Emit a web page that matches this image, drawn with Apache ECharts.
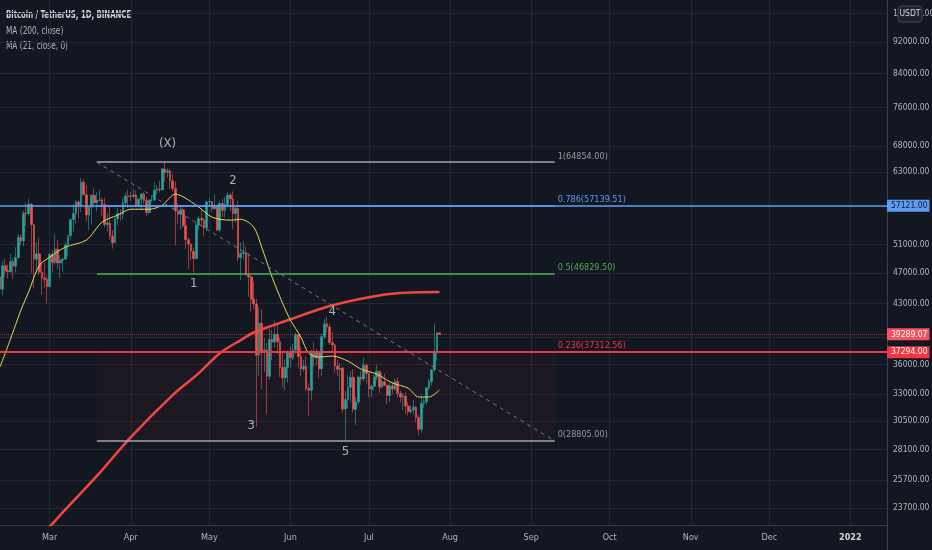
<!DOCTYPE html>
<html>
<head>
<meta charset="utf-8">
<title>Bitcoin / TetherUS, 1D, BINANCE</title>
<script src="https://cdn.jsdelivr.net/npm/echarts@6/dist/echarts.min.js"></script>
<style>
  html, body { margin: 0; padding: 0; background: #131722; }
  #chart { width: 932px; height: 550px; }
</style>
</head>
<body>
<div id="chart"></div>
<script>
// daily axis: 2021-02-10 .. 2022-01-15
const firstDay = Date.UTC(2021, 1, 10);
const dayCount = 340;
const monthNames = ['Jan', 'Feb', 'Mar', 'Apr', 'May', 'Jun', 'Jul', 'Aug', 'Sep', 'Oct', 'Nov', 'Dec'];

// one row per day from 2021-02-10: [open, close, low, high]
const candles = [
  [46469, 44807, 43727, 47310], [44807, 47969, 43994, 48678], [47969, 47287, 46400, 48985],
  [47287, 47153, 46202, 48150], [47153, 48577, 47014, 49707], [48577, 47911, 46174, 49010],
  [47911, 49133, 47010, 50624], [49133, 52119, 48948, 52618], [52119, 51552, 50901, 52530],
  [51552, 55906, 50710, 56368], [55906, 55841, 53863, 57700], [55841, 57408, 55478, 58352],
  [57408, 54087, 46912, 57533], [54087, 48891, 44892, 54183], [48891, 49676, 47003, 51374],
  [49676, 47073, 46700, 52041], [47073, 46276, 44106, 48370], [46276, 46106, 45000, 48424],
  [46106, 45135, 43000, 46638],
  // March
  [45135, 49587, 45115, 49790], [49587, 48441, 47047, 50200], [48441, 50349, 48100, 52640],
  [50349, 48374, 47500, 51773], [48374, 48751, 46300, 49448], [48751, 48882, 47070, 49200],
  [48882, 50971, 48882, 51450], [50971, 52375, 49274, 52402], [52375, 54884, 51789, 54900],
  [54884, 55851, 53005, 57387], [55851, 57773, 54270, 58150], [57773, 57221, 55013, 58058],
  [57221, 61188, 56078, 61844], [61188, 58968, 58966, 61683], [58968, 55605, 54568, 60633],
  [55605, 56900, 53271, 56938], [56900, 58912, 54123, 58981], [58912, 57648, 57023, 60100],
  [57648, 58030, 56270, 59468], [58030, 58102, 57820, 59880], [58102, 57351, 55450, 58592],
  [57351, 54083, 53650, 58420], [54083, 54340, 53000, 55830], [54340, 52303, 51700, 57200],
  [52303, 51293, 50427, 53230], [51293, 55025, 51278, 55073], [55025, 55817, 53967, 56700],
  [55817, 55777, 54691, 56559], [55777, 57635, 54901, 58405], [57635, 58746, 57168, 59368],
  [58746, 58740, 56769, 59800],
  // April
  [58740, 58720, 57935, 59461], [58720, 58950, 58429, 60036], [58950, 57051, 56863, 59753],
  [57051, 58202, 56956, 58492], [58202, 59129, 56478, 59272], [59129, 57991, 57413, 59495],
  [57991, 56000, 55473, 58650], [56000, 58088, 55700, 58153], [58088, 58102, 57670, 58869],
  [58102, 59774, 57902, 61195], [59774, 59964, 59001, 60699], [59964, 59835, 59350, 61400],
  [59835, 63588, 59790, 63774], [63588, 62971, 61301, 64854], [62971, 63232, 62020, 63800],
  [63232, 61431, 60000, 63594], [61431, 60059, 59580, 62599], [60059, 56274, 50931, 61332],
  [56274, 55715, 54221, 57526], [55715, 56473, 53329, 57076], [56473, 53906, 53609, 56888],
  [53906, 51762, 50400, 55500], [51762, 51093, 47500, 52130], [51093, 50050, 48753, 51166],
  [50050, 49004, 47044, 50591], [49004, 54021, 48817, 54356], [54021, 55033, 53222, 55465],
  [55033, 54824, 53813, 56428], [54824, 53555, 52330, 55195], [53555, 57750, 53013, 57963],
  // May
  [57750, 57828, 57053, 58458], [57828, 56631, 56035, 57937], [56631, 57200, 56478, 59000],
  [57200, 53241, 53046, 57220], [53241, 57502, 52900, 57972], [57502, 56372, 55200, 58360],
  [56372, 57352, 55241, 58650], [57352, 58930, 56900, 59500], [58930, 58281, 56235, 59300],
  [58281, 55859, 53400, 59592], [55859, 56705, 54370, 56903], [56705, 49150, 48600, 58000],
  [49150, 49717, 46000, 51367], [49717, 49880, 48868, 51560], [49880, 46761, 46555, 50700],
  [46761, 46456, 43825, 49800], [46456, 43538, 42001, 46643], [43538, 42910, 42250, 45799],
  [42910, 36964, 30000, 43546], [36964, 40596, 34850, 42461], [40596, 37371, 33488, 42250],
  [37371, 37531, 35200, 38856], [37531, 34771, 31111, 38270], [34771, 38705, 34414, 39920],
  [38705, 38403, 36419, 39791], [38403, 39295, 37800, 40900], [39295, 38436, 37134, 40411],
  [38436, 35697, 34688, 38877], [35697, 34617, 33632, 37338], [34617, 35678, 33379, 36488],
  [35678, 37332, 34153, 37499],
  // June
  [37332, 36693, 35666, 37894], [36693, 37569, 36419, 38225], [37569, 39246, 37170, 39476],
  [39246, 36829, 35555, 39289], [36829, 35514, 34800, 37925], [35514, 35797, 35258, 36480],
  [35797, 33552, 33300, 36800], [33552, 33380, 31000, 34068], [33380, 37388, 32396, 37534],
  [37388, 36675, 35787, 38400], [36675, 37313, 35936, 37680], [37313, 35546, 34600, 37463],
  [35546, 39020, 34757, 39380], [39020, 40516, 38730, 41064], [40516, 40144, 39506, 41330],
  [40144, 38349, 38116, 40527], [38349, 38092, 37365, 39559], [38092, 35819, 35129, 38202],
  [35819, 35483, 34803, 36457], [35483, 35600, 33336, 36137], [35600, 31608, 31251, 35750],
  [31608, 32509, 28805, 33298], [32509, 33678, 31683, 34881], [33678, 34663, 32286, 35298],
  [34663, 31584, 31275, 35500], [31584, 32283, 30151, 32730], [32283, 34700, 32000, 34749],
  [34700, 34494, 33862, 35297], [34494, 35911, 34231, 36675], [35911, 35045, 34017, 36100],
  // July
  [35045, 33504, 32711, 35100], [33504, 33786, 32699, 33977], [33786, 34669, 33316, 34909],
  [34669, 35286, 34357, 35967], [35286, 33690, 33125, 35293], [33690, 34220, 33532, 35118],
  [34220, 33863, 33770, 35059], [33863, 32875, 32077, 33929], [32875, 33815, 32261, 34100],
  [33815, 33502, 33005, 34262], [33502, 34258, 33332, 34592], [34258, 33086, 32658, 34670],
  [33086, 32729, 32202, 33340], [32729, 32820, 31550, 33114], [32820, 31880, 31133, 33185],
  [31880, 31383, 31020, 32249], [31383, 31520, 31164, 31949], [31520, 31778, 31108, 32435],
  [31778, 30839, 30407, 31899], [30839, 29790, 29278, 31063], [29790, 32144, 29482, 32858],
  [32144, 32287, 31708, 32591], [32287, 33634, 32000, 33650], [33634, 34258, 33401, 34500],
  [34258, 35425, 33881, 35445], [35425, 37208, 35205, 40550], [37208, 39456, 36383, 39542],
  [39456, 39289.07, 39230, 39500]
];

// moving averages
const ma200Points = [
  ['2021-02-24', 21500], ['2021-03-04', 23010], ['2021-03-20', 26230], ['2021-04-01', 29130],
  ['2021-04-17', 32920], ['2021-04-27', 35090], ['2021-05-05', 37190], ['2021-05-13', 38630],
  ['2021-05-18', 39500], ['2021-05-31', 40930], ['2021-06-16', 42660], ['2021-07-01', 43780],
  ['2021-07-13', 44300], ['2021-07-28', 44430]
];
const ma21Points = [
  ['2021-02-10', 35720], ['2021-02-14', 38740], ['2021-02-18', 42150], ['2021-02-21', 44500],
  ['2021-02-25', 48000], ['2021-03-01', 49190], ['2021-03-07', 50650], ['2021-03-15', 51690],
  ['2021-03-21', 54470], ['2021-03-27', 55590], ['2021-04-01', 56550], ['2021-04-08', 56550],
  ['2021-04-13', 57220], ['2021-04-18', 59090], ['2021-04-26', 57220], ['2021-05-02', 55270],
  ['2021-05-09', 54780], ['2021-05-13', 54920], ['2021-05-18', 53670], ['2021-05-21', 50650],
  ['2021-05-25', 46410], ['2021-05-29', 43020], ['2021-06-01', 40950], ['2021-06-05', 38970],
  ['2021-06-08', 37190], ['2021-06-12', 36770], ['2021-06-17', 36880], ['2021-06-23', 36340],
  ['2021-06-28', 35500], ['2021-07-04', 34990], ['2021-07-10', 34090], ['2021-07-16', 33590],
  ['2021-07-20', 32730], ['2021-07-24', 32730], ['2021-07-28', 33430]
];

// price scale
const priceTicks = [23700, 25700, 28100, 30500, 33000, 36000, 39000, 43000, 47000, 51000,
  57000, 63000, 68000, 76000, 84000, 92000, 100000];
const priceLabels = [23700, 25700, 28100, 30500, 33000, 36000, 43000, 47000, 51000,
  63000, 68000, 76000, 84000, 92000, 100000];

// fib retracement drawing
const fibRatios = ['1', '0.786', '0.5', '0.236', '0'];
const fibPrices = [64854.00, 57139.51, 46829.50, 37312.56, 28805.00];
const fibFrom = '2021-03-19';
const fibTo = '2021-09-10';

// wave count labels
const waveNames = ['(X)', '1', '2', '3', '4', '5'];
const waveDates = ['2021-04-15', '2021-04-25', '2021-05-10', '2021-05-17', '2021-06-17', '2021-06-22'];
const wavePrices = [68540, 45600, 61540, 30160, 41920, 27890];

// horizontal lines
const blueLevel = 57121.00;
const redLevel = 37294.00;
const lastPrice = 39289.07;

const days = [];
for (let i = 0; i < dayCount; i++) {
  days.push(new Date(firstDay + i * 86400000).toISOString().slice(0, 10));
}
const isMonthStart = (idx, val) => val.slice(8) === '01';

const font = "'DejaVu Sans Condensed', 'DejaVu Sans', sans-serif";
const up = '#26a69a';
const down = '#ef5350';
const fibLineColors = ['#a3a6af', '#5b9cf6', '#4caf50', '#f23645', '#a3a6af'];
const fibTextColors = ['#9598a1', '#5b9cf6', '#4caf50', '#f23645', '#9598a1'];

const fibLines = fibPrices.map((p, i) => [
  {
    coord: [fibFrom, p],
    lineStyle: { color: fibLineColors[i], width: i === 3 ? 2 : 1.5, type: 'solid' },
    label: {
      show: true, position: 'end', distance: 3,
      // second empty line lifts the text above the level line
      formatter: fibRatios[i] + '(' + p.toFixed(2) + ')\n ',
      color: fibTextColors[i], fontSize: 9, lineHeight: 12, fontFamily: font,
      textBorderWidth: 0
    }
  },
  { coord: [fibTo, p] }
]);

const badge = (value, bg, fg) => ({
  show: true, position: 'end', distance: 0,
  formatter: value.toFixed(2),
  backgroundColor: bg, color: fg,
  fontSize: 8.5, fontFamily: font,
  textBorderWidth: 0,
  padding: [2, 2, 1, 4]
});

const chart = echarts.init(document.getElementById('chart'));
const option = {
  backgroundColor: '#131722',
  animation: false,
  grid: { left: 0, right: 45, top: 0, bottom: 25, containLabel: false, outerBoundsMode: 'none' },
  xAxis: {
    type: 'category',
    data: days,
    boundaryGap: false,
    axisLine: { lineStyle: { color: '#3b3f4a' } },
    axisTick: { show: false },
    axisLabel: {
      interval: isMonthStart,
      color: '#b2b5be',
      fontSize: 9,
      fontFamily: font,
      margin: 8,
      formatter: (val) => {
        const m = +val.slice(5, 7);
        return m === 1 ? '{y|' + val.slice(0, 4) + '}' : monthNames[m - 1];
      },
      rich: { y: { fontWeight: 'bold', color: '#d1d4dc', fontSize: 9, fontFamily: font } }
    },
    splitLine: { show: true, interval: isMonthStart, lineStyle: { color: '#242833' } }
  },
  yAxis: {
    type: 'log',
    position: 'right',
    min: 22550,
    max: 104000,
    axisLine: { show: true, lineStyle: { color: '#3b3f4a' } },
    axisTick: { show: false, customValues: priceTicks },
    axisLabel: {
      customValues: priceLabels,
      formatter: (v) => Math.round(v).toFixed(2),
      color: '#b2b5be',
      fontSize: 8.5,
      fontFamily: font,
      margin: 6
    },
    splitLine: { show: true, lineStyle: { color: '#242833' } }
  },
  series: [
    {
      name: 'zone',
      type: 'line',
      data: [],
      z: 1,
      silent: true,
      markArea: {
        silent: true,
        itemStyle: { color: 'rgba(242, 54, 69, 0.045)' },
        data: [[{ coord: [fibFrom, fibPrices[3]] }, { coord: [fibTo, fibPrices[4]] }]]
      }
    },
    {
      name: 'BTCUSDT',
      type: 'candlestick',
      data: candles,
      barWidth: '85%',
      itemStyle: { color: up, color0: down, borderColor: up, borderColor0: down, borderWidth: 0.6 }
    },
    {
      name: 'MA (200, close)',
      type: 'line',
      data: ma200Points,
      smooth: 0.3,
      showSymbol: false,
      z: 3,
      lineStyle: { color: '#f0483e', width: 2.5 }
    },
    {
      name: 'MA (21, close, 0)',
      type: 'line',
      data: ma21Points,
      smooth: 0.3,
      showSymbol: false,
      z: 3,
      lineStyle: { color: '#e3d95a', width: 1 }
    },
    {
      name: 'drawings',
      type: 'line',
      data: [],
      z: 4,
      silent: true,
      clip: false,
      markLine: {
        silent: true,
        symbol: ['none', 'none'],
        data: [
          { yAxis: lastPrice, lineStyle: { color: 'rgba(239, 83, 80, 0.55)', width: 1, type: 'dotted' },
            label: badge(lastPrice, '#f7525f', '#ffffff') },
          { yAxis: blueLevel, lineStyle: { color: '#5b9cf6', width: 1.5, type: 'solid' },
            label: badge(blueLevel, '#5b9cf6', '#131722') },
          { yAxis: redLevel, lineStyle: { color: '#f23645', width: 2, type: 'solid' },
            label: badge(redLevel, '#f23645', '#ffffff') },
          ...fibLines,
          [
            { coord: [fibFrom, fibPrices[0]], lineStyle: { color: '#787b86', width: 1, type: [4, 4] }, label: { show: false } },
            { coord: [fibTo, fibPrices[4]] }
          ]
        ]
      }
    },
    {
      name: 'waves',
      type: 'scatter',
      z: 5,
      silent: true,
      symbolSize: 0,
      data: waveNames.map((n, i) => ({ name: n, value: [waveDates[i], wavePrices[i]] })),
      label: {
        show: true,
        position: 'inside',
        formatter: '{b}',
        color: '#d1d4dc',
        fontSize: 13,
        fontFamily: font,
        textBorderWidth: 0
      }
    }
  ],
  graphic: [
    { type: 'text', x: 6, y: 15, scaleX: 0.77, style: { text: 'Bitcoin / TetherUS, 1D, BINANCE', fill: '#d1d4dc', fontSize: 10, fontWeight: 'bold', fontFamily: font, verticalAlign: 'middle' } },
    { type: 'text', x: 6, y: 31, scaleX: 0.82, style: { text: 'MA (200, close)', fill: '#b2b5be', fontSize: 10, fontFamily: font, verticalAlign: 'middle' } },
    { type: 'text', x: 6, y: 46, scaleX: 0.82, style: { text: 'MA (21, close, 0)', fill: '#b2b5be', fontSize: 10, fontFamily: font, verticalAlign: 'middle' } },
    { type: 'line', shape: { x1: 887.5, y1: 525, x2: 887.5, y2: 550 }, style: { stroke: '#3b3f4a', lineWidth: 1 } },
    { type: 'rect', shape: { x: 898, y: 6, width: 24, height: 16, r: 3 }, style: { fill: '#1e222d', stroke: '#434651', lineWidth: 1 }, z: 10 },
    { type: 'text', x: 910, y: 14, z: 11, style: { text: 'USDT', fill: '#d1d4dc', fontSize: 8.5, fontFamily: font, align: 'center', verticalAlign: 'middle' } }
  ]
};
chart.setOption(option);
</script>
</body>
</html>
